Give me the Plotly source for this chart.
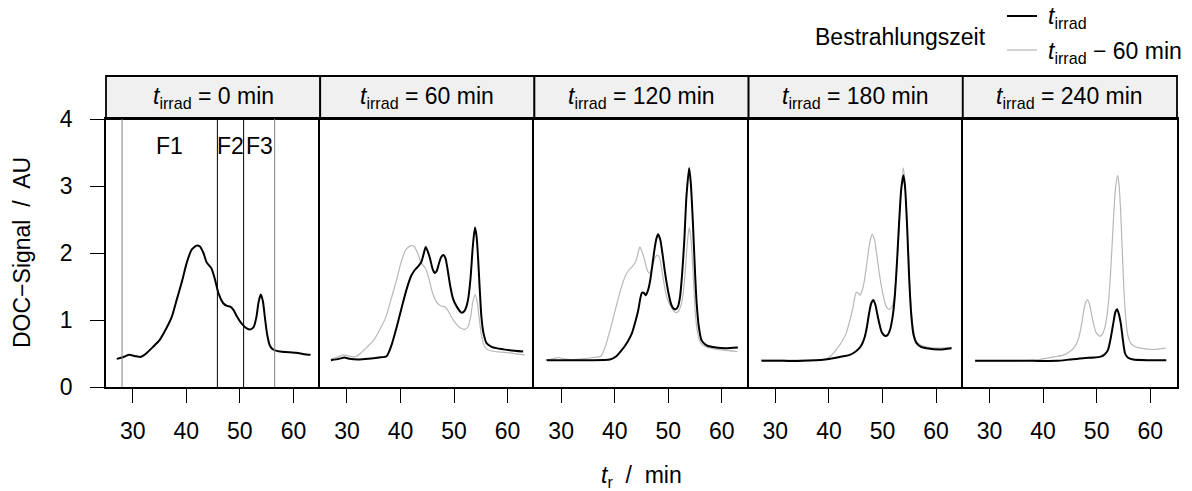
import plotly.graph_objects as go

# ---------------- data ----------------
IRRAD_TIMES = [0, 60, 120, 180, 240]          # panel labels, min
X_TICKS = [30, 40, 50, 60]
Y_TICKS = [0, 1, 2, 3, 4]

t_0 = [27.0, 28.0, 29.3, 30.5, 31.5, 32.5, 33.8, 35.0, 36.3, 37.3, 38.2, 39.2, 40.1, 41.0,
       41.9, 42.5, 43.2, 43.8, 44.7, 45.3, 46.0, 46.9, 47.6, 48.2, 48.8, 49.4, 50.3, 51.2,
       52.0, 52.6, 53.1, 53.5, 53.9, 54.3, 54.7, 55.1, 55.6, 56.2, 57.5, 59.0, 60.5, 62.0, 63.2]
s_0 = [0.42, 0.44, 0.48, 0.46, 0.45, 0.50, 0.60, 0.70, 0.88, 1.05, 1.30, 1.58, 1.86, 2.05,
       2.11, 2.10, 2.00, 1.86, 1.77, 1.62, 1.40, 1.25, 1.21, 1.20, 1.15, 1.06, 0.95, 0.88,
       0.86, 0.90, 1.05, 1.27, 1.38, 1.28, 1.02, 0.78, 0.62, 0.56, 0.53, 0.52, 0.51, 0.49, 0.48]

t_60 = [27.0, 28.5, 29.5, 30.5, 32.0, 34.0, 36.0, 37.4, 38.3, 39.3, 40.2, 41.1, 42.0, 42.7,
        43.3, 43.9, 44.3, 44.7, 45.1, 45.5, 46.0, 46.4, 46.8, 47.2, 47.6, 48.0, 48.4, 48.8,
        49.3, 49.8, 50.5, 51.4, 51.9, 52.3, 52.7, 53.1, 53.5, 53.9, 54.2, 54.5, 54.8, 55.1,
        55.5, 56.1, 57.0, 57.9, 60.4, 62.9]
s_60 = [0.40, 0.42, 0.44, 0.42, 0.41, 0.42, 0.44, 0.46, 0.62, 0.90, 1.18, 1.45, 1.66, 1.75,
        1.80, 1.87, 1.98, 2.09, 2.02, 1.92, 1.76, 1.70, 1.74, 1.85, 1.94, 1.97, 1.92, 1.75,
        1.50, 1.32, 1.20, 1.11, 1.13, 1.20, 1.35, 1.65, 2.10, 2.38, 2.25, 1.90, 1.45, 1.05,
        0.80, 0.65, 0.60, 0.58, 0.55, 0.53]

t_120 = [27.3, 31.3, 35.1, 39.1, 40.3, 41.3, 42.3, 43.2, 43.8, 44.4, 44.8, 45.1, 45.5, 45.8,
         46.2, 46.6, 47.0, 47.4, 47.8, 48.1, 48.5, 48.9, 49.3, 49.7, 50.2, 50.6, 51.0, 51.4,
         51.8, 52.2, 52.6, 53.0, 53.4, 53.9, 54.2, 54.6, 55.0, 55.3, 55.7, 56.2, 57.0, 58.1,
         60.6, 63.0]
s_120 = [0.40, 0.40, 0.40, 0.41, 0.46, 0.55, 0.66, 0.80, 0.96, 1.15, 1.33, 1.41, 1.40, 1.37,
         1.44, 1.58, 1.80, 2.04, 2.22, 2.28, 2.20, 2.00, 1.76, 1.55, 1.34, 1.22, 1.17, 1.16,
         1.20, 1.35, 1.70, 2.20, 2.85, 3.27, 3.05, 2.45, 1.70, 1.25, 0.90, 0.70, 0.63, 0.60,
         0.58, 0.59]

t_180 = [27.4, 31.5, 35.2, 39.3, 42.1, 43.9, 45.0, 45.8, 46.3, 46.7, 47.1, 47.5, 47.9, 48.3,
         48.7, 49.0, 49.4, 49.8, 50.2, 50.6, 51.0, 51.4, 51.9, 52.3, 52.7, 53.1, 53.5, 53.9,
         54.2, 54.6, 55.0, 55.4, 55.8, 56.4, 57.2, 58.2, 60.7, 62.9]
s_180 = [0.39, 0.39, 0.39, 0.41, 0.45, 0.48, 0.53, 0.59, 0.66, 0.75, 0.90, 1.10, 1.25, 1.30,
         1.22, 1.10, 0.95, 0.83, 0.78, 0.76, 0.78, 0.85, 1.05, 1.35, 1.85, 2.45, 2.95, 3.16,
         3.00, 2.40, 1.60, 1.05, 0.78, 0.65, 0.60, 0.58, 0.56, 0.58]

t_240 = [27.3, 33.8, 38.0, 42.5, 45.0, 47.5, 49.5, 50.6, 51.4, 52.1, 52.6, 53.1, 53.5, 53.8,
         54.1, 54.5, 54.9, 55.3, 55.8, 56.8, 59.9, 63.0]
s_240 = [0.39, 0.39, 0.39, 0.39, 0.41, 0.43, 0.44, 0.45, 0.48, 0.55, 0.72, 0.95, 1.12, 1.16,
         1.10, 0.95, 0.70, 0.50, 0.44, 0.41, 0.40, 0.40]

# fraction boundaries drawn in the first panel (min) and their labels
F_BOUNDS = [28.0, 45.8, 50.7, 56.5]
F_LABELS = ["F1", "F2", "F3"]
F_LABEL_Y = 3.59

TIMES_T = [t_0, t_60, t_120, t_180, t_240]
SIGNALS = [s_0, s_60, s_120, s_180, s_240]

# ---------------- styling ----------------
FONT = "Liberation Sans, Arial, sans-serif"
FS = 23
BLACK = "#000000"
GRAY = "#b8b8b8"
STRIP_FILL = "#f0f0f0"
W, H = 1192, 491
ML, MR, MT, MB = 106, 15, 119, 104
PW = W - ML - MR
PH = H - MT - MB
STRIP_H = 43 / PH  # in paper units

n = len(IRRAD_TIMES)
fig = go.Figure()

for i in range(n):
    ax = "" if i == 0 else str(i + 1)
    # previous irradiation time (grey)
    if i > 0:
        fig.add_trace(go.Scatter(
            x=TIMES_T[i - 1], y=SIGNALS[i - 1], mode="lines",
            line=dict(color=GRAY, width=1.2, shape="spline", smoothing=0.6),
            xaxis="x" + ax, yaxis="y" + ax, showlegend=False,
            name="t_irrad − 60 min"))
    fig.add_trace(go.Scatter(
        x=TIMES_T[i], y=SIGNALS[i], mode="lines",
        line=dict(color=BLACK, width=2, shape="spline", smoothing=0.6),
        xaxis="x" + ax, yaxis="y" + ax, showlegend=False, name="t_irrad"))

    fig.layout["xaxis" + ax] = dict(
        domain=[i / n, (i + 1) / n], anchor="y" + ax, range=[25, 65],
        tickvals=X_TICKS, ticks="outside", ticklen=14, tickwidth=1.3, tickcolor=BLACK,
        showline=True, mirror=True, linecolor=BLACK, linewidth=1.8,
        showgrid=False, zeroline=False, ticklabelstandoff=8,
        tickfont=dict(size=FS, color=BLACK, family=FONT))
    ydict = dict(
        domain=[0, 1], anchor="x" + ax, range=[0, 4],
        showline=True, mirror=(i == n - 1), linecolor=BLACK, linewidth=1.8,
        showgrid=False, zeroline=False)
    if i == 0:
        ydict.update(tickvals=Y_TICKS, ticks="outside", ticklen=14, tickwidth=1.3,
                     tickcolor=BLACK, ticklabelstandoff=13,
                     tickfont=dict(size=FS, color=BLACK, family=FONT))
    else:
        ydict.update(showticklabels=False, ticks="")
    fig.layout["yaxis" + ax] = ydict

    # strip
    fig.add_shape(type="rect", xref=f"x{ax} domain", yref="paper",
                  x0=0, x1=1, y0=1, y1=1 + STRIP_H,
                  fillcolor=STRIP_FILL, line=dict(color=BLACK, width=1.8), layer="below")
    fig.add_annotation(xref=f"x{ax} domain", yref="paper", x=0.5, y=1 + STRIP_H / 2,
                       text=f"<i>t</i><sub>irrad</sub> = {IRRAD_TIMES[i]} min",
                       showarrow=False, xanchor="center", yanchor="middle",
                       font=dict(size=FS, color=BLACK, family=FONT))

# fraction boundaries in panel 1
bound_colors = ["#808080", BLACK, BLACK, "#808080"]
for b, c in zip(F_BOUNDS, bound_colors):
    fig.add_shape(type="line", xref="x", yref="y", x0=b, x1=b, y0=0, y1=4,
                  line=dict(color=c, width=1))
for k, lab in enumerate(F_LABELS):
    fig.add_annotation(xref="x", yref="y", x=(F_BOUNDS[k] + F_BOUNDS[k + 1]) / 2, y=F_LABEL_Y,
                       text=lab, showarrow=False, xanchor="center", yanchor="middle",
                       font=dict(size=FS, color=BLACK, family=FONT))

# axis titles
fig.add_annotation(xref="paper", yref="paper", x=(22 - ML) / PW, y=0.5, textangle=-90,
                   text="DOC−Signal  /  AU", showarrow=False,
                   xanchor="center", yanchor="middle",
                   font=dict(size=FS, color=BLACK, family=FONT))
fig.add_annotation(xref="paper", yref="paper", x=0.5, y=-(476 - (H - MB)) / PH,
                   text="<i>t</i><sub>r</sub>  /  min", showarrow=False,
                   xanchor="center", yanchor="middle",
                   font=dict(size=FS, color=BLACK, family=FONT))

# legend (drawn manually)
def px_x(p):
    return (p - ML) / PW

def px_y(p):
    return (H - MB - p) / PH

leg_items = [("<i>t</i><sub>irrad</sub>", BLACK, 2, 16),
             ("<i>t</i><sub>irrad</sub> − 60 min", GRAY, 1.2, 50)]
for txt, col, wd, py in leg_items:
    fig.add_shape(type="line", xref="paper", yref="paper",
                  x0=px_x(1007), x1=px_x(1037), y0=px_y(py), y1=px_y(py),
                  line=dict(color=col, width=wd))
    fig.add_annotation(xref="paper", yref="paper", x=px_x(1046), y=px_y(py + 2),
                       text=txt, showarrow=False, xanchor="left", yanchor="middle",
                       font=dict(size=FS, color=BLACK, family=FONT))
fig.add_annotation(xref="paper", yref="paper", x=px_x(988), y=px_y(37),
                   text="Bestrahlungszeit", showarrow=False, xanchor="right", yanchor="middle",
                   font=dict(size=FS, color=BLACK, family=FONT))

fig.update_layout(
    width=W, height=H, autosize=False,
    margin=dict(l=ML, r=MR, t=MT, b=MB),
    paper_bgcolor="white", plot_bgcolor="white",
    font=dict(family=FONT, size=FS, color=BLACK),
    showlegend=False,
)

fig.write_html("out.html", config={"displayModeBar": False},
               post_script="document.body.style.margin='0';document.body.style.overflow='hidden';")
